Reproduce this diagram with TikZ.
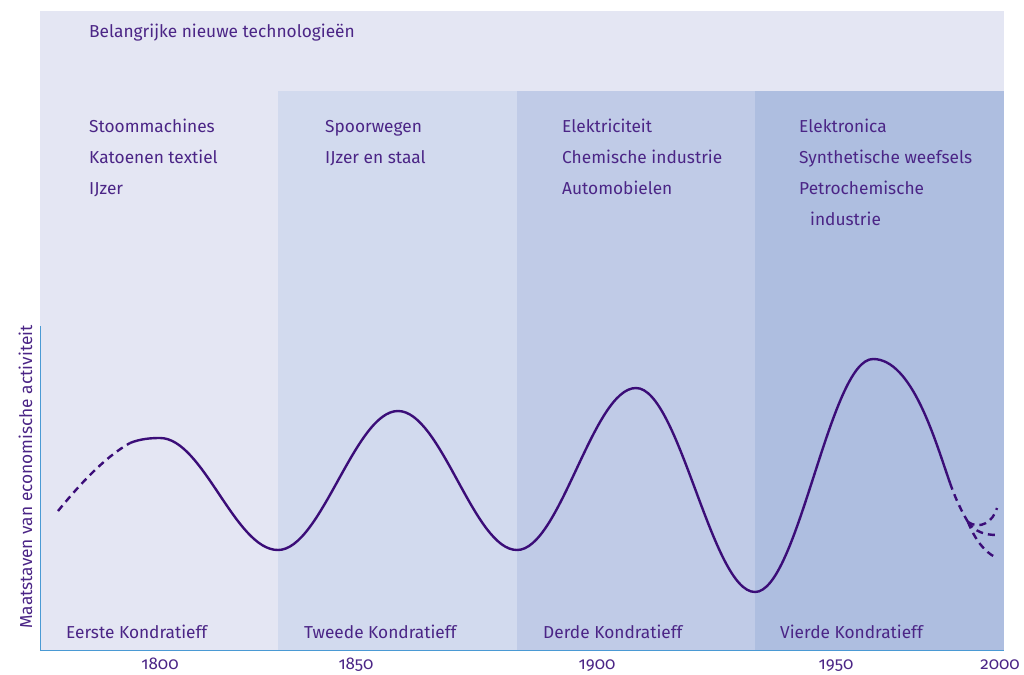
\documentclass[tikz,border=0pt]{standalone}
\usepackage{fontspec}
\setmainfont[Numbers=OldStyle]{Fira Sans}
\definecolor{bgA}{HTML}{E4E6F3}
\definecolor{bgB}{HTML}{D2DAEE}
\definecolor{bgC}{HTML}{C0CBE7}
\definecolor{bgD}{HTML}{AEBEE0}
\definecolor{txt}{HTML}{4B2586}
\definecolor{crv}{HTML}{3B0D78}
\definecolor{axis}{HTML}{4A9AD4}
\tikzset{
  lbl/.style={anchor=base west, inner sep=0pt, text=txt, font=\fontsize{17.3}{19}\selectfont},
  yr/.style={anchor=base, inner sep=0pt, text=txt, font=\fontsize{17}{19}\selectfont},
  wave/.style={draw=crv, line width=2.4pt},
  wavedash/.style={wave, dash pattern=on 7pt off 5pt},
  axisline/.style={draw=axis, line width=1pt}
}
\begin{document}
\begin{tikzpicture}[x=1pt,y=-1pt]
\useasboundingbox (0,0) rectangle (1024,674);
% bands
\fill[bgA] (40,11) rectangle (1004,650);
\fill[bgB] (278,91) rectangle (517,650);
\fill[bgC] (517,91) rectangle (755,650);
\fill[bgD] (755,91) rectangle (1004,650);
% axes
\draw[axisline] (40,326) -- (40,650) -- (1004,650);
% texts
\node[lbl] (title) at (89,38) {Belangrijke nieuwe technologieën};
\node[lbl] (a1) at (89,132) {Stoommachines};
\node[lbl] (a2) at (89,163) {Katoenen textiel};
\node[lbl] (a3) at (89,194) {IJzer};
\node[lbl] (b1) at (325,132) {Spoorwegen};
\node[lbl] (b2) at (325,163) {IJzer en staal};
\node[lbl] (c1) at (562,132) {Elektriciteit};
\node[lbl] (c2) at (562,163) {Chemische industrie};
\node[lbl] (c3) at (562,194) {Automobielen};
\node[lbl] (d1) at (799,132) {Elektronica};
\node[lbl] (d2) at (799,163) {Synthetische weefsels};
\node[lbl] (d3) at (799,194) {Petrochemische};
\node[lbl] (d4) at (810,225) {industrie};
\node[lbl] (k1) at (66,638) {Eerste Kondratieff};
\node[lbl] (k2) at (304,638) {Tweede Kondratieff};
\node[lbl] (k3) at (543,638) {Derde Kondratieff};
\node[lbl] (k4) at (780,638) {Vierde Kondratieff};
\node[yr] (y1800) at (160,669) {1800};
\node[yr] (y1850) at (356,669) {1850};
\node[yr] (y1900) at (597,669) {1900};
\node[yr] (y1950) at (836,669) {1950};
\node[yr] (y2000) at (1000,669) {2000};
\node[lbl, anchor=base, rotate=90] (ylab) at (32,477) {Maatstaven van economische activiteit};
% curve
\draw[wavedash] (58,511) .. controls (80,484) and (105,457) .. (130,443);
\draw[wave] (130,443) .. controls (140,439) and (150,438) .. (160,438)
  .. controls (203,438) and (235,550) .. (278,550)
  .. controls (321,550) and (355,411) .. (398,411)
  .. controls (441,411) and (474,550) .. (517,550)
  .. controls (560,550) and (593,388) .. (636,388)
  .. controls (679,388) and (712,592) .. (755,592)
  .. controls (798,592) and (830,359) .. (873,359)
  .. controls (912,359) and (935,440) .. (950,483);
\draw[wavedash] (950,483) .. controls (956,500) and (962,512) .. (968,522);
\draw[wavedash] (968,522) .. controls (980,530) and (993,522) .. (997,508);
\draw[wavedash] (968,522) .. controls (975,532) and (985,535) .. (997,535);
\draw[wavedash] (968,522) .. controls (975,540) and (985,552) .. (995,557);
\end{tikzpicture}
\end{document}
